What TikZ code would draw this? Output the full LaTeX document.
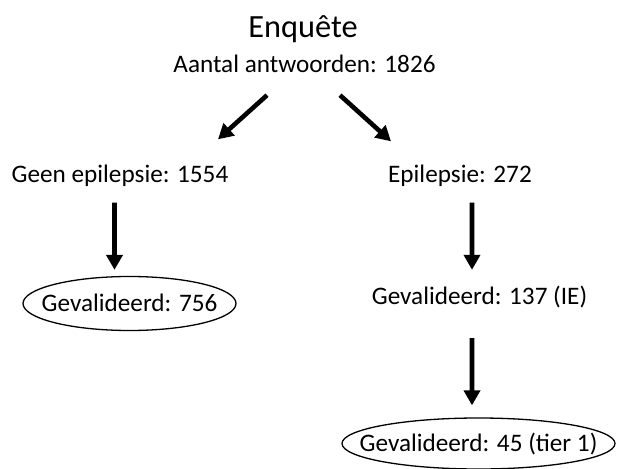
\documentclass[tikz,border=0pt]{standalone}
\usepackage{fontspec}
\setmainfont{Carlito}
\usepackage{tikz}
\usetikzlibrary{shapes.geometric,arrows.meta}

\tikzset{
  txt/.style={inner sep=0pt, anchor=base, text height=17bp, text depth=5bp,
    font=\fontsize{25.3}{30}\selectfont},
  oval/.style={ellipse, draw, line width=1.3bp, inner ysep=0pt, text height=16bp,
    text depth=0bp, font=\fontsize{25.3}{30}\selectfont},
  arr/.style={line width=4.6bp, -{Triangle[width=16bp,length=15bp]}}
}

\begin{document}
\begin{tikzpicture}[x=1bp,y=-1bp]
    \useasboundingbox (0,0) rectangle (617,469);

    % Define nodes
    \node[txt, font=\fontsize{32.5}{38}\selectfont] (enq) at (303,37.5) {Enquête};
    \node[txt] (aantal) at (304.5,73) {Aantal antwoorden: 1826};
    \node[txt] (geen) at (120,182.5) {Geen epilepsie: 1554};
    \node[txt] (epi) at (460,182.5) {Epilepsie: 272};
    \node[oval, inner xsep=-15bp, minimum width=213bp, minimum height=54bp] (val1) at (129.5,303.5) {Gevalideerd: 756};
    \node[txt] (val2) at (479.5,305) {Gevalideerd: 137 (IE)};
    \node[oval, inner xsep=-25bp, minimum width=273bp, minimum height=51bp] (val3) at (478.5,443.5) {Gevalideerd: 45 (tier 1)};

    % Connect nodes
    \draw[arr] ([xshift=-37.5bp,yshift=-17bp]aantal.south) -- ([xshift=98bp,yshift=26bp]geen.north);
    \draw[arr] ([xshift=35.5bp,yshift=-17bp]aantal.south) -- ([xshift=-69bp,yshift=24bp]epi.north);
    \draw[arr] ([xshift=-5.5bp,yshift=-15bp]geen.south) -- ([xshift=-15bp,yshift=6bp]val1.north);
    \draw[arr] ([xshift=12bp,yshift=-15bp]epi.south) -- ([xshift=-7.5bp,yshift=18bp]val2.north);
    \draw[arr] ([xshift=-7.5bp,yshift=-28bp]val2.south) -- ([xshift=-6.5bp,yshift=12bp]val3.north);
\end{tikzpicture}
\end{document}
